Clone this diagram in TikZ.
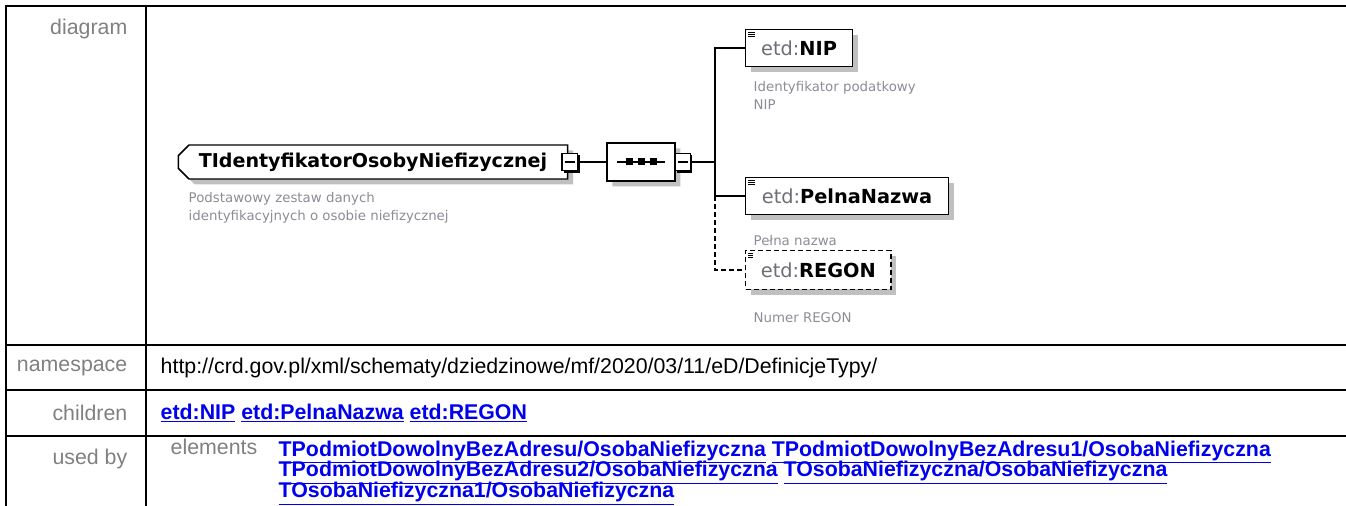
\documentclass[tikz,border=0pt]{standalone}
\usepackage{fontspec}
\setmainfont{Liberation Sans}
\newfontfamily\dvs{DejaVu Sans}
\usetikzlibrary{positioning,shapes.misc,shadows}

\definecolor{lblgray}{RGB}{128,128,128}
\definecolor{descgray}{RGB}{140,140,150}
\definecolor{nsgray}{RGB}{110,110,120}
\definecolor{shade}{RGB}{192,192,192}
\definecolor{linkblue}{RGB}{0,0,238}
\newcommand{\tightlines}{\lineskiplimit=-20pt\relax}

\begin{document}
\begin{tikzpicture}[x=0.75pt, y=-0.75pt,
    rowlbl/.style={anchor=east, text=lblgray, font=\fontsize{16}{19}\selectfont},
    rowtxt/.style={anchor=west, font=\fontsize{16}{19}\selectfont},
    link/.style={anchor=west, text=linkblue, align=left,
      font=\fontsize{16}{15.6}\selectfont\bfseries\tightlines},
    typebox/.style={chamfered rectangle, chamfered rectangle corners={north west,south west},
      chamfered rectangle sep=4pt, draw, line width=1.1pt, fill=white,
      minimum width=292pt, minimum height=25.5pt, inner sep=0pt,
      drop shadow={shadow xshift=4pt, shadow yshift=-4pt, fill=shade, opacity=1},
      font=\dvs\fontsize{14.3}{16}\selectfont\bfseries},
    seqbox/.style={chamfered rectangle, chamfered rectangle sep=5pt, draw, line width=1.1pt, fill=white,
      minimum width=51pt, minimum height=28.5pt, inner sep=0pt,
      drop shadow={shadow xshift=4pt, shadow yshift=-4pt, fill=shade, opacity=1}},
    minusbox/.style={rectangle, draw, line width=0.9pt, fill=white, minimum width=11.5pt,
      minimum height=13pt, inner sep=0pt,
      drop shadow={shadow xshift=1.6pt, shadow yshift=-1.6pt, fill=black, opacity=1},
      path picture={\draw[line width=0.9pt] ([xshift=2pt]path picture bounding box.west) -- ([xshift=-2pt]path picture bounding box.east);}},
    elembox/.style={rectangle, draw, line width=1.1pt, fill=white, minimum height=27.5pt, inner sep=0pt,
      drop shadow={shadow xshift=4pt, shadow yshift=-4pt, fill=shade, opacity=1},
      font=\dvs\fontsize{14.5}{16}\selectfont,
      path picture={\foreach \k in {1,2,3}
        \draw[line width=0.6pt] ([xshift=2pt, yshift=-\k*1.4pt-0.6pt]path picture bounding box.north west) -- ++(5pt,0);}},
    desc/.style={anchor=north west, align=left, text=descgray, font=\dvs\fontsize{10}{13.4}\selectfont},
    conn/.style={line width=1.1pt},
  ]
  \useasboundingbox (0,0) rectangle (1346,506);

  % table grid
  \draw[line width=1.9pt] (5,6) -- (1346,6);
  \draw[line width=1.9pt] (6,6) -- (6,506);
  \draw[line width=1.9pt] (146,6) -- (146,506);
  \draw[line width=1.9pt] (5,345) -- (1346,345);
  \draw[line width=1.9pt] (5,390) -- (1346,390);
  \draw[line width=1.9pt] (5,436) -- (1346,436);

  \node[rowlbl] (ldiag) at (132,29) {diagram};
  \node[rowlbl] (lns) at (132,368) {namespace};
  \node[rowlbl] (lchild) at (132,413) {children};
  \node[rowlbl] (lused) at (132,459) {used by};

  \node[rowtxt] (ns) at (156,368) {http://crd.gov.pl/xml/schematy/dziedzinowe/mf/2020/03/11/eD/DefinicjeTypy/};
  \node[link] (kids) at (156,413) {\underline{etd:NIP} \underline{etd:PelnaNazwa} \underline{etd:REGON}};
  \node[rowlbl, anchor=north east] (lelem) at (262,434) {elements};
  \node[link, anchor=north west] (usedby) at (274,436)
    {\underline{TPodmiotDowolnyBezAdresu/OsobaNiefizyczna} \underline{TPodmiotDowolnyBezAdresu1/OsobaNiefizyczna}\\
     \underline{TPodmiotDowolnyBezAdresu2/OsobaNiefizyczna} \underline{TOsobaNiefizyczna/OsobaNiefizyczna}\\
     \underline{TOsobaNiefizyczna1/OsobaNiefizyczna}};

  % diagram
  \node[typebox] (tid) at (373,162) {TIdentyfikatorOsobyNiefizycznej\hspace{18pt}};
  \node[minusbox] (tidm) at ([xshift=1pt]tid.east) {};
  \node[desc] (tiddesc) at (184,188) {Podstawowy zestaw danych\\identyfikacyjnych o osobie niefizycznej};

  \node[seqbox] (seq) at (641,162) {};
  \draw[line width=1pt] (617,162) -- (665,162);
  \foreach \sx in {629,641,653}
    \fill (\sx-3.5,158.5) rectangle (\sx+3.5,165.5);
  \node[minusbox, anchor=west] (seqm) at ([xshift=-1pt]seq.east) {};

  \coordinate (trunk) at (715,162);

  \node[elembox, anchor=west, minimum width=80pt] (nip) at (745,48)
    {\textcolor{nsgray}{etd:}\textbf{NIP}};
  \node[desc] (nipdesc) at (749,77) {Identyfikator podatkowy\\NIP};

  \node[elembox, anchor=west, minimum width=152pt] (pelna) at (745,196)
    {\textcolor{nsgray}{etd:}\textbf{PelnaNazwa}};
  \node[desc] (pelnadesc) at (749,231) {Pełna nazwa};

  \node[elembox, anchor=west, minimum width=109pt, minimum height=29pt, dashed, dash pattern=on 3.75pt off 2.25pt] (regon) at (745,270)
    {\textcolor{nsgray}{etd:}\textbf{REGON}};
  \node[desc] (regondesc) at (749,308) {Numer REGON};

  \draw[conn] (tidm.east) -- (seq.west);
  \draw[conn] (seqm.east) -- (trunk);
  \draw[conn] (nip.west) -| (trunk) |- (pelna.west);
  \draw[conn, dash pattern=on 3.75pt off 2.25pt] (trunk |- pelna.west) |- (regon.west);
\end{tikzpicture}
\end{document}
